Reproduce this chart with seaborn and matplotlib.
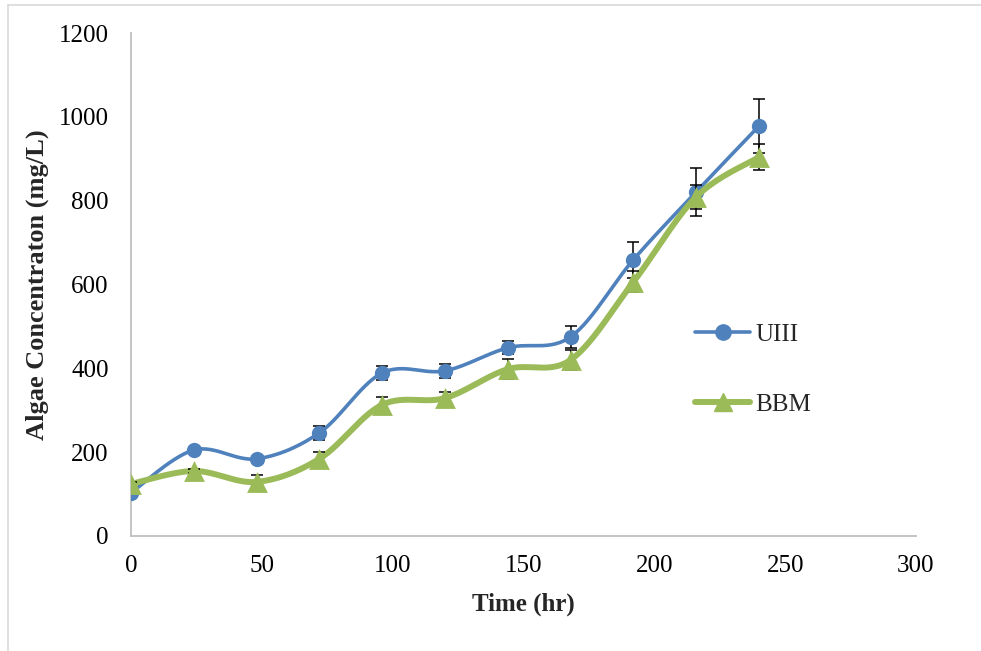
import numpy as np
import pandas as pd
import matplotlib
matplotlib.use("Agg")
import matplotlib.pyplot as plt
from matplotlib.lines import Line2D
import seaborn as sns

# Growth data
time_hr = [0, 24, 48, 72, 96, 120, 144, 168, 192, 216, 240]
uiii = [103, 205, 184, 246, 389, 394, 449, 475, 659, 821, 978]
bbm = [124, 155, 129, 184, 313, 329, 398, 420, 606, 809, 904]
uiii_err = [5, 5, 5, 17, 17, 17, 16, 27, 43, 57, 64]
bbm_err = [5, 5, 17, 17, 19, 15, 24, 24, 25, 29, 30]
series_names = ["UIII", "BBM"]
x_ticks = [0, 50, 100, 150, 200, 250, 300]
y_ticks = [0, 200, 400, 600, 800, 1000, 1200]

BLUE = "#4F81BD"
GREEN = "#9BBB59"


def smooth_curve(xs, ys, steps=30):
    """Catmull-Rom curve through the points (Excel-style smoothed line)."""
    p = np.column_stack([xs, ys]).astype(float)
    n = len(p)
    tang = np.zeros_like(p)
    for i in range(n):
        a = p[max(i - 1, 0)]
        b = p[min(i + 1, n - 1)]
        tang[i] = (b - a) / 2.0
    out = []
    t = np.linspace(0, 1, steps)
    h00 = 2 * t**3 - 3 * t**2 + 1
    h10 = t**3 - 2 * t**2 + t
    h01 = -2 * t**3 + 3 * t**2
    h11 = t**3 - t**2
    for i in range(n - 1):
        seg = (h00[:, None] * p[i] + h10[:, None] * tang[i]
               + h01[:, None] * p[i + 1] + h11[:, None] * tang[i + 1])
        out.append(seg if i == 0 else seg[1:])
    out = np.vstack(out)
    return out[:, 0], out[:, 1]


sns.set_style("white")
plt.rcParams["font.family"] = ["Liberation Serif", "DejaVu Serif"]

fig = plt.figure(figsize=(9.81, 6.51), dpi=100)
ax = fig.add_axes([0.1335, 0.1767, 0.8002, 0.7726])

styles = {
    "UIII": dict(color=BLUE, lw=2.6, marker="o", ms=11, vals=uiii, err=uiii_err, z=3),
    "BBM": dict(color=GREEN, lw=4.3, marker="^", ms=15, vals=bbm, err=bbm_err, z=5),
}

for name in series_names:
    s = styles[name]
    sx, sy = smooth_curve(time_hr, s["vals"])
    curve = pd.DataFrame({"t": sx, "v": sy})
    sns.lineplot(data=curve, x="t", y="v", ax=ax, color=s["color"], lw=s["lw"],
                 sort=False, estimator=None, zorder=s["z"],
                 solid_capstyle="round")
    ax.errorbar(time_hr, s["vals"], yerr=s["err"], fmt="none", ecolor="black",
                elinewidth=1.1, capsize=4.5, capthick=1.1, zorder=s["z"] + 0.5)
    pts = pd.DataFrame({"t": time_hr, "v": s["vals"]})
    sns.scatterplot(data=pts, x="t", y="v", ax=ax, color=s["color"],
                    marker=s["marker"], s=s["ms"] ** 2, edgecolor=s["color"],
                    linewidth=0, zorder=s["z"] + 1)

ax.set_xlim(0, 300)
ax.set_ylim(0, 1200)
ax.set_xticks(x_ticks)
ax.set_yticks(y_ticks)
ax.tick_params(axis="both", length=0, labelsize=18, colors="black")
ax.tick_params(axis="y", pad=16)
ax.tick_params(axis="x", pad=14)

for side in ["top", "right"]:
    ax.spines[side].set_visible(False)
for side in ["left", "bottom"]:
    ax.spines[side].set_color("#BFBFBF")
    ax.spines[side].set_linewidth(1.3)

ax.set_xlabel("Time (hr)", fontsize=18, fontweight="bold", labelpad=11)
ax.set_ylabel("Algae Concentraton (mg/L)", fontsize=19, fontweight="bold", labelpad=7)

handles = [
    Line2D([], [], color=BLUE, lw=2.6, marker="o", ms=11),
    Line2D([], [], color=GREEN, lw=4.3, marker="^", ms=13),
]
ax.legend(handles, series_names, loc="center left", bbox_to_anchor=(0.69, 0.33),
          frameon=False, fontsize=18, handlelength=2.2, handletextpad=0.2,
          labelspacing=1.9)

# thin frame lines along the top and left edge of the figure
fig.add_artist(Line2D([8 / 981, 1.0], [1 - 5 / 651, 1 - 5 / 651],
                      transform=fig.transFigure, color="#D9D9D9", lw=1.2))
fig.add_artist(Line2D([8 / 981, 8 / 981], [0.0, 1 - 5 / 651],
                      transform=fig.transFigure, color="#D9D9D9", lw=1.2))

fig.savefig("out.png", dpi=100)
